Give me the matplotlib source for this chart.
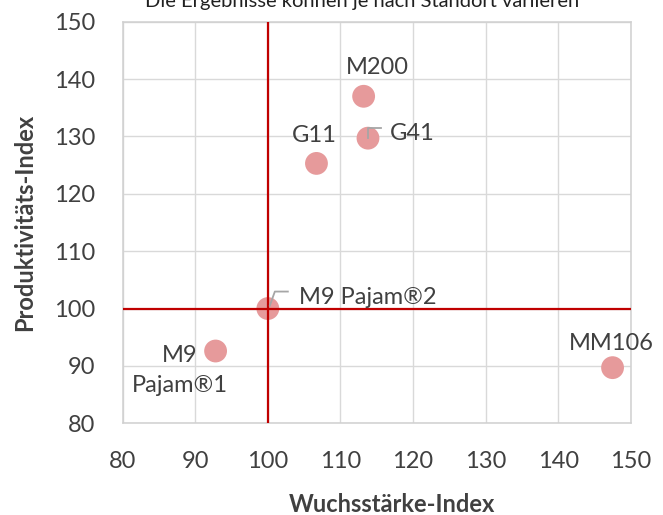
import matplotlib
matplotlib.use('agg')
import matplotlib.pyplot as plt
import matplotlib.transforms as mtransforms

plt.rcParams['font.family'] = ['Lato', 'DejaVu Sans']

# rootstock data (growth index, productivity index)
names = ['M9\nPajam®1', 'M9 Pajam®2', 'G11', 'M200', 'G41', 'MM106']
wuchs = [92.8, 100.0, 106.7, 113.2, 113.8, 147.5]
produktiv = [92.6, 100.0, 125.3, 137.0, 129.7, 89.7]
ref_x = 100
ref_y = 100
x_ticks = [80, 90, 100, 110, 120, 130, 140, 150]
y_ticks = [80, 90, 100, 110, 120, 130, 140, 150]

# label offsets in pixels from the point (x, y, ha)
label_pos = {
    'M9\nPajam®1': (-36, 6, 'center'),
    'M9 Pajam®2': (31, 1, 'left'),
    'G11': (-2, 17, 'center'),
    'M200': (14, 18, 'center'),
    'G41': (22, -6, 'left'),
    'MM106': (-1, 14, 'center'),
}

text_col = '#404040'
red = '#C00000'

fig = plt.figure(figsize=(6.63, 5.15), dpi=100)
ax = fig.add_axes([122.7 / 663, 1 - 423.3 / 515, (630.7 - 122.7) / 663, (423.3 - 21.7) / 515])

ax.scatter(wuchs, produktiv, s=270, color='#E69A9B', edgecolors='none', zorder=3)
ax.axhline(ref_y, color=red, lw=1.6, zorder=4)
ax.axvline(ref_x, color=red, lw=1.6, zorder=4)

for name, xv, yv in zip(names, wuchs, produktiv):
    dx, dy, ha = label_pos[name]
    va = 'top' if '\n' in name else 'bottom'
    ax.annotate(name, (xv, yv), xytext=(dx, dy), textcoords='offset pixels',
                ha=ha, va=va, fontsize=17, color=text_col, zorder=5,
                linespacing=1.5)

# leader lines (pixel offsets from the point)
def leader(xv, yv, px, py):
    tr = fig.dpi_scale_trans + mtransforms.ScaledTranslation(xv, yv, ax.transData)
    ax.plot([p / 100 for p in px], [p / 100 for p in py], color='#A6A6A6', lw=1.3,
            transform=tr, zorder=5, clip_on=False)

i = names.index('G41')
leader(wuchs[i], produktiv[i], [0, 0, 13], [0, 10, 10])
i = names.index('M9 Pajam®2')
leader(wuchs[i], produktiv[i], [2, 7, 20], [3, 17, 17])

ax.set_xlim(80, 150)
ax.set_ylim(80, 150)
ax.set_xticks(x_ticks)
ax.set_yticks(y_ticks)
ax.grid(True, color='#D9D9D9', lw=1.0, zorder=0)
ax.set_axisbelow(True)
for s in ax.spines.values():
    s.set_color('#D0D0D0')
    s.set_linewidth(1.1)
ax.tick_params(length=0, labelsize=17, labelcolor=text_col, pad=20)

fig.text(392 / 663, 3 / 515, 'Wuchsstärke-Index', ha='center', va='baseline',
         fontsize=17, fontweight='bold', color=text_col)
fig.text(25 / 663, 1 - 222.5 / 515, 'Produktivitäts-Index', ha='center', va='center',
         rotation=90, fontsize=17, fontweight='bold', color=text_col)
fig.text(362 / 663, 1 - 7 / 515, 'Die Ergebnisse können je nach Standort variieren',
         ha='center', va='baseline', fontsize=14.5, color='#202020')

fig.savefig('out.png', dpi=100)
